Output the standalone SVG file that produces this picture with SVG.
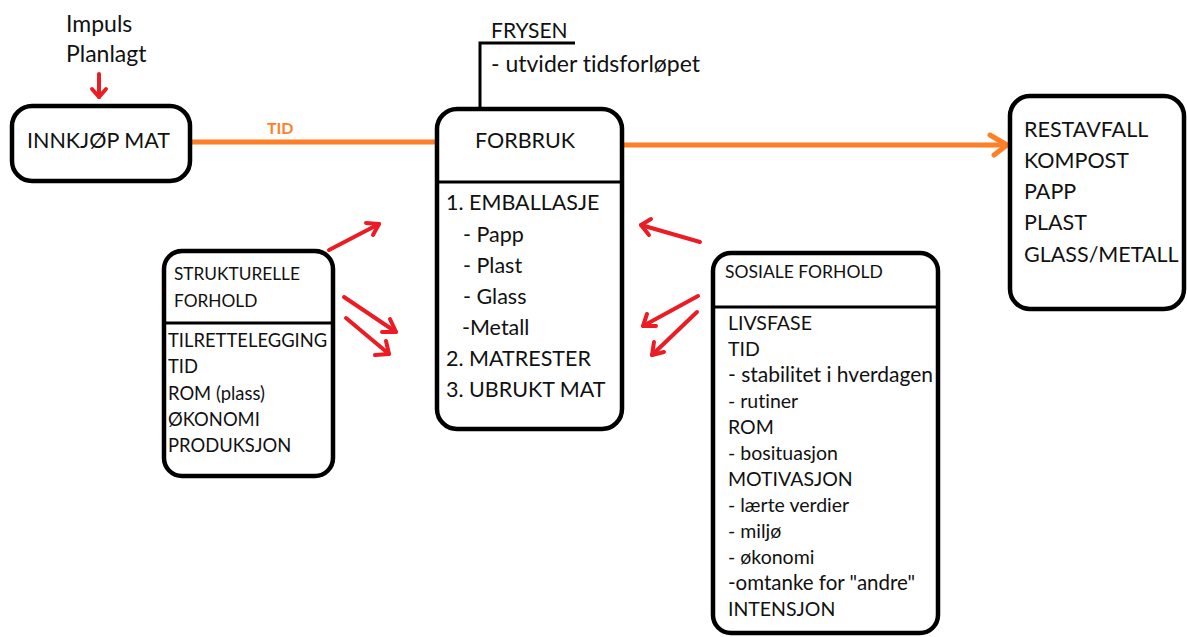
<svg xmlns="http://www.w3.org/2000/svg" width="1187" height="637" viewBox="0 0 1187 637">
<style>
  text { font-family: Lato, "Open Sans", "Liberation Sans", sans-serif; fill: #111; font-variant-ligatures: none; font-feature-settings: "liga" 0, "clig" 0; }
  .box { fill: #fff; stroke: #000; stroke-width: 4.5; }
  .div { stroke: #000; stroke-width: 3; fill: none; }
  .t22 { font-size: 21.5px; }
  .t23 { font-size: 23px; }
  .t19 { font-size: 19.5px; }
  .t18 { font-size: 18.4px; }
  .t17 { font-size: 17.3px; }
  .red { stroke: #ec1c24; stroke-width: 4; fill: none; stroke-linecap: round; stroke-linejoin: round; }
  .orange { stroke: #ff7f27; stroke-width: 5; fill: none; stroke-linecap: round; stroke-linejoin: round; }
</style>
<rect width="1187" height="637" fill="#fff"/>

<g id="connectors">
  <line class="orange" x1="190" y1="142" x2="437" y2="142"/>
  <line class="orange" x1="622" y1="145" x2="1007" y2="145"/>
  <polyline class="orange" points="990,135 1007,145 994,155"/>
  <text x="267" y="134" font-size="16" font-weight="bold" style="fill:#ff7f27">TID</text>
  <path class="div" d="M480,108 V43 H575" stroke-width="4"/>
  <line class="red" x1="99" y1="74" x2="99" y2="97"/>
  <polyline class="red" points="92,89 99,97 106,89"/>
  <line class="red" x1="329" y1="250" x2="379" y2="224"/>
  <polyline class="red" points="366,223 379,224 373,235"/>
  <line class="red" x1="344" y1="297" x2="396" y2="332"/>
  <polyline class="red" points="390,319 396,332 382,332"/>
  <line class="red" x1="346" y1="318" x2="389" y2="354"/>
  <polyline class="red" points="386,341 389,354 375,355"/>
  <line class="red" x1="700" y1="242" x2="641" y2="225"/>
  <polyline class="red" points="651,219 641,225 649,235"/>
  <line class="red" x1="698" y1="296" x2="643" y2="326"/>
  <polyline class="red" points="647,314 643,326 656,326"/>
  <line class="red" x1="697" y1="312" x2="652" y2="355"/>
  <polyline class="red" points="654,342 652,355 664,352"/>
</g>

<g id="labels-top">
  <text class="t23" x="66" y="32">Impuls</text>
  <text class="t23" x="66" y="62">Planlagt</text>
  <text x="491" y="38" font-size="21">FRYSEN</text>
  <text x="491" y="72" font-size="23">- utvider tidsforløpet</text>
</g>

<g id="innkjop">
  <rect class="box" x="12" y="106" width="178" height="75" rx="20"/>
  <text class="t22" x="27" y="148">INNKJØP MAT</text>
</g>

<g id="forbruk">
  <rect class="box" x="437" y="109" width="185" height="320" rx="20"/>
  <line class="div" x1="437" y1="182" x2="622" y2="182"/>
  <text class="t22" x="475" y="148">FORBRUK</text>
  <text class="t22" x="446" y="210">1. EMBALLASJE</text>
  <text class="t22" x="463" y="242">- Papp</text>
  <text class="t22" x="463" y="273">- Plast</text>
  <text class="t22" x="463" y="304">- Glass</text>
  <text class="t22" x="462" y="335">-Metall</text>
  <text class="t22" x="446" y="366">2. MATRESTER</text>
  <text class="t22" x="446" y="397">3. UBRUKT MAT</text>
</g>

<g id="strukturelle">
  <rect class="box" x="164" y="251" width="169" height="225" rx="18"/>
  <line class="div" x1="164" y1="323" x2="333" y2="323"/>
  <text class="t17" x="174" y="280">STRUKTURELLE</text>
  <text class="t17" x="174" y="307">FORHOLD</text>
  <text class="t18" x="168" y="347">TILRETTELEGGING</text>
  <text class="t18" x="168" y="373">TID</text>
  <text class="t18" x="168" y="400">ROM (plass)</text>
  <text class="t18" x="168" y="426">ØKONOMI</text>
  <text class="t18" x="168" y="452">PRODUKSJON</text>
</g>

<g id="sosiale">
  <rect class="box" x="713" y="253" width="225" height="380" rx="18"/>
  <line class="div" x1="713" y1="307" x2="938" y2="307"/>
  <text x="725" y="278" font-size="17.5">SOSIALE FORHOLD</text>
  <text class="t19" x="728" y="330">LIVSFASE</text>
  <text class="t19" x="728" y="356">TID</text>
  <text x="728" y="382" font-size="21">- stabilitet i hverdagen</text>
  <text class="t19" x="728" y="408">- rutiner</text>
  <text class="t19" x="728" y="434">ROM</text>
  <text class="t19" x="728" y="460">- bosituasjon</text>
  <text class="t19" x="728" y="486">MOTIVASJON</text>
  <text class="t19" x="728" y="512">- lærte verdier</text>
  <text class="t19" x="728" y="538">- miljø</text>
  <text class="t19" x="728" y="564">- økonomi</text>
  <text x="728" y="590" font-size="20.5">-omtanke for "andre"</text>
  <text class="t19" x="728" y="616">INTENSJON</text>
</g>

<g id="avfall">
  <rect class="box" x="1010" y="96" width="174" height="213" rx="20"/>
  <text class="t22" x="1024" y="137">RESTAVFALL</text>
  <text class="t22" x="1024" y="168">KOMPOST</text>
  <text class="t22" x="1024" y="199">PAPP</text>
  <text class="t22" x="1024" y="230">PLAST</text>
  <text class="t22" x="1024" y="262">GLASS/METALL</text>
</g>
</svg>
